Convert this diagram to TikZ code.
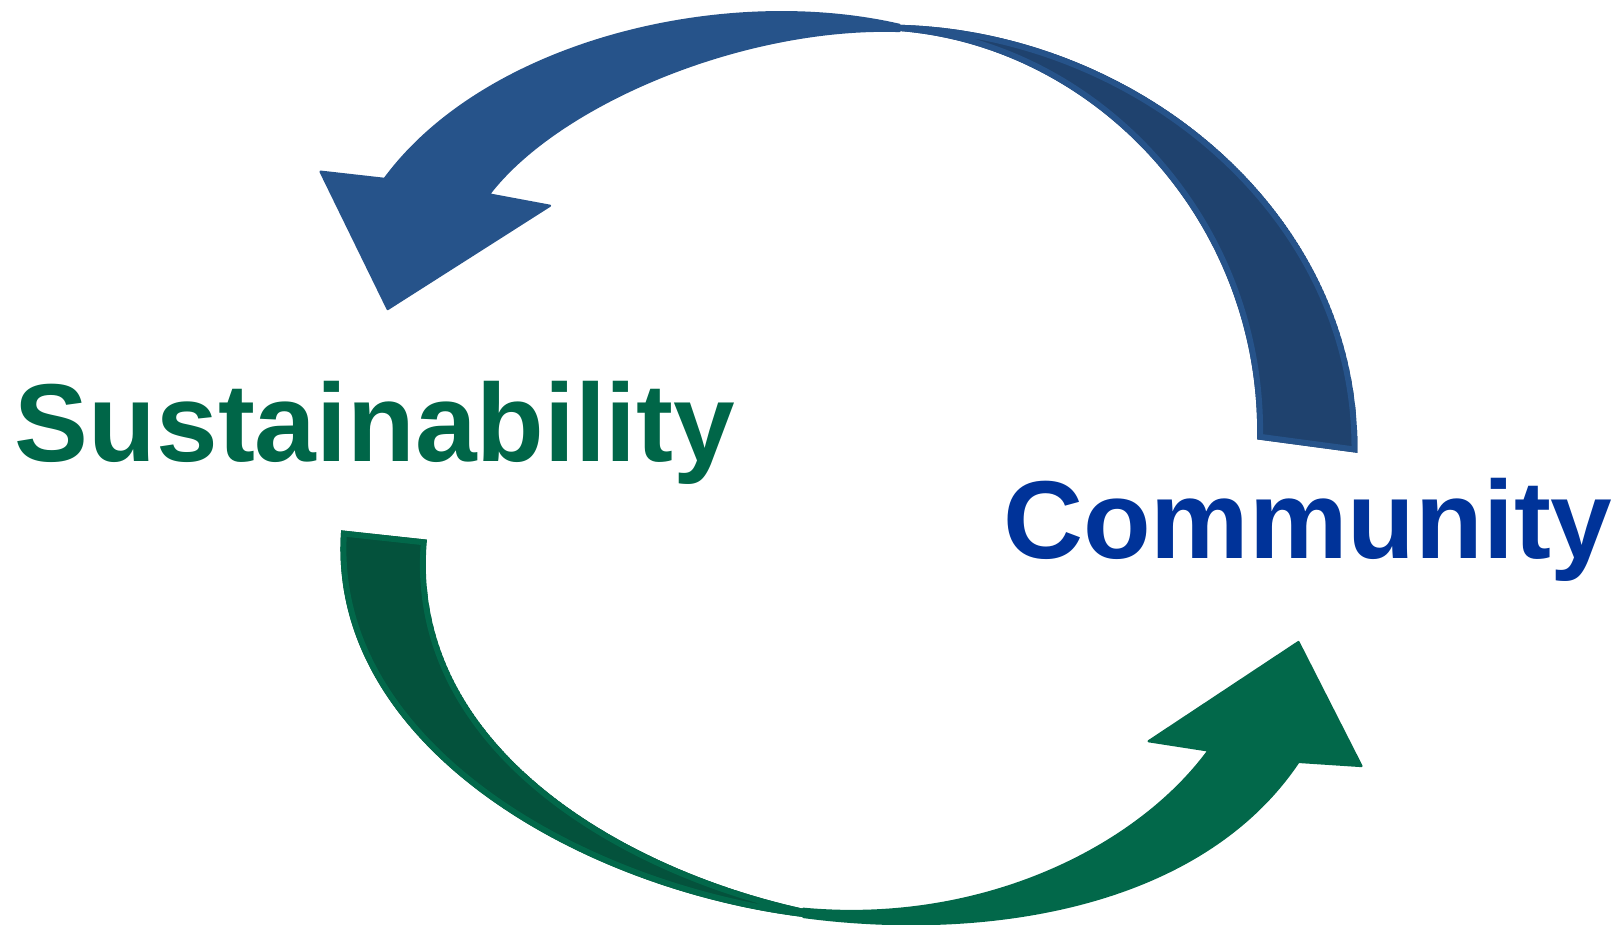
\documentclass[tikz,border=0pt]{standalone}
\usepackage{fontspec}
\setmainfont{Liberation Sans}
\usetikzlibrary{positioning}

\definecolor{bluefront}{HTML}{26538A}
\definecolor{blueback}{HTML}{1F426E}
\definecolor{greenfront}{HTML}{02684A}
\definecolor{greenback}{HTML}{04523C}
\definecolor{sustgreen}{HTML}{006648}
\definecolor{commblue}{HTML}{003399}

% back bands of the two arrows (used for clip and fill)
\newcommand{\bluebackpath}{(870,24) .. controls (1100,30) and (1316,205) .. (1313,438)
    -- (1216,425) .. controls (1220,215) and (1060,45) .. (870,30) -- cycle}
\newcommand{\greenbackpath}{(330,513) .. controls (315,720) and (560,860) .. (777,887)
    -- (777,879) .. controls (600,840) and (395,720) .. (413,522) -- cycle}

\begin{document}
\begin{tikzpicture}[x=0.02cm, y=-0.02cm,
    bandfront/.style={line width=1.2pt, line join=round},
    bandback/.style={line width=6.5pt, line join=round},
    wordtext/.style={inner sep=0pt, anchor=base west, font=\fontsize{61}{70}\selectfont\bfseries}]
    \useasboundingbox (0,0) rectangle (1568,894);

    % Top arrow - back band, then front band with head
    \begin{scope}
        \clip \bluebackpath;
        \filldraw [bandback, fill=blueback, draw=bluefront] \bluebackpath;
    \end{scope}
    \filldraw [bandfront, fill=bluefront, draw=bluefront]
        (372,173) .. controls (470,40) and (700,-15) .. (870,24)
        -- (870,30) .. controls (720,25) and (540,100) .. (473,188)
        -- (532,199) -- (375,299) -- (310,166) -- cycle;

    % Bottom arrow - back band, then front band with head
    \begin{scope}
        \clip \greenbackpath;
        \filldraw [bandback, fill=greenback, draw=greenfront] \greenbackpath;
    \end{scope}
    \filldraw [bandfront, fill=greenfront, draw=greenfront]
        (777,879) .. controls (950,895) and (1100,820) .. (1169,726)
        -- (1111,717) -- (1256,621) -- (1317,741) -- (1256,737)
        .. controls (1160,880) and (950,910) .. (777,887) -- cycle;

    % Words
    \node [wordtext, text=sustgreen] (sust) at (14,446) {Sustainability};
    \node [wordtext, text=commblue] (comm) at (970,540) {Community};
\end{tikzpicture}
\end{document}
